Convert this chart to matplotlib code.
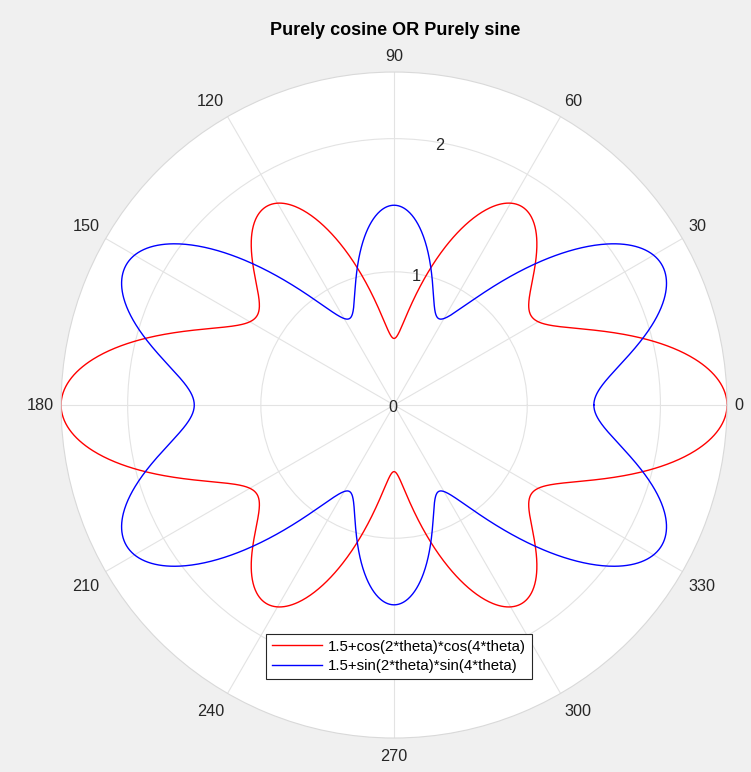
import numpy as np
import matplotlib
matplotlib.use("Agg")
import matplotlib.pyplot as plt

plt.rcParams["font.family"] = ["Liberation Sans", "DejaVu Sans"]

# Curves as stated in the legend: offset + f(a*theta) * f(b*theta)
offset = 1.5
freq_a = 2
freq_b = 4
labels = ["1.5+cos(2*theta)*cos(4*theta)", "1.5+sin(2*theta)*sin(4*theta)"]
colors = ["#ff0000", "#0000ff"]
theta_ticks = [0, 30, 60, 90, 120, 150, 180, 210, 240, 270, 300, 330]
r_ticks = [0, 1, 2]
r_max = 2.5
r_label_angle = 80

theta = np.linspace(0, 2 * np.pi, 2001)
r_cos = offset + np.cos(freq_a * theta) * np.cos(freq_b * theta)
r_sin = offset + np.sin(freq_a * theta) * np.sin(freq_b * theta)

fig = plt.figure(figsize=(7.51, 7.72), dpi=100)
fig.patch.set_facecolor("#f0f0f0")
ax = fig.add_axes([0.0813, 0.044, 0.8868, 0.8627], projection="polar")
ax.set_facecolor("white")

ax.plot(theta, r_cos, color=colors[0], lw=1.0, label=labels[0])
ax.plot(theta, r_sin, color=colors[1], lw=1.0, label=labels[1])

ax.set_ylim(0, r_max)
ax.set_yticks(r_ticks)
ax.set_yticklabels([])
for rv in r_ticks:
    ax.annotate(str(rv), xy=(np.deg2rad(r_label_angle), rv), xytext=(-0.7, -1.0),
                textcoords="offset points", ha="center", va="center_baseline",
                fontsize=11.7, color="#262626")

ax.set_xticks(np.deg2rad(theta_ticks))
ax.set_xticklabels([])
# theta labels: anchored just outside the circle, edge-aligned (MATLAB style)
R_px = 333.0
anchor_px = 340.0
half_h_top_pt = 9.0 * 0.72
half_h_bot_pt = 11.8 * 0.72
for t in theta_ticks:
    s = str(t)
    a = np.deg2rad(t)
    c, sn = np.cos(a), np.sin(a)
    ha = "left" if c > 1e-6 else ("right" if c < -1e-6 else "center")
    if sn > 1e-6:
        dy = half_h_top_pt
    elif sn < -1e-6:
        dy = -half_h_bot_pt
    else:
        dy = 0
    ax.annotate(s, xy=(a, r_max * anchor_px / R_px), xytext=(0, dy),
                textcoords="offset points", ha=ha, va="center",
                fontsize=11.7, color="#262626", annotation_clip=False)

ax.grid(True, color="#e3e3e3", lw=0.8)
ax.spines["polar"].set_color("#d9d9d9")
ax.spines["polar"].set_linewidth(0.8)

fig.text(0.526, 0.961, "Purely cosine OR Purely sine", ha="center", va="center",
         fontsize=13, fontweight="bold", color="black")

leg = ax.legend(loc="center", bbox_to_anchor=(0.531, 0.150),
                bbox_transform=fig.transFigure, fontsize=10.8, frameon=True,
                fancybox=False, edgecolor="#262626", framealpha=1,
                handlelength=3.3, borderpad=0.4, labelspacing=0.35,
                handletextpad=0.4)
leg.get_frame().set_linewidth(0.8)

fig.savefig("out.png", dpi=100, facecolor=fig.get_facecolor())
